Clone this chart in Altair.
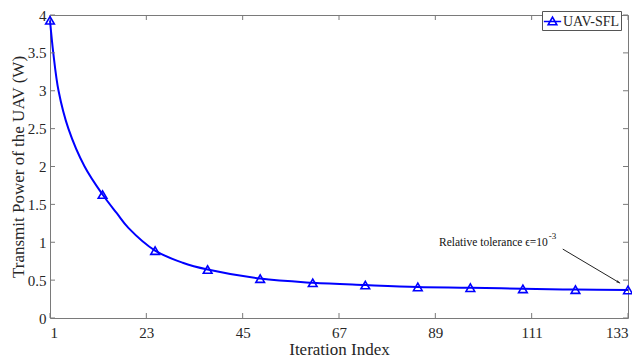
import altair as alt
import pandas as pd

# ---- data ----
curve_x = [1, 1.75, 2.95, 5.2, 8.9, 13, 16.3, 18.9, 25, 31.3, 37, 49, 61, 73, 85, 97, 109, 121, 133]
curve_y = [3.93, 3.5, 3.0, 2.5, 2.0, 1.63, 1.38, 1.19, 0.89, 0.73, 0.64, 0.52, 0.465, 0.435, 0.41, 0.40, 0.385, 0.375, 0.37]
marker_x = [1, 13, 25, 37, 49, 61, 73, 85, 97, 109, 121, 133]
marker_y = [3.93, 1.63, 0.89, 0.64, 0.52, 0.465, 0.435, 0.41, 0.40, 0.385, 0.375, 0.37]
series_name = "UAV-SFL"
x_ticks = [1, 23, 45, 67, 89, 111, 133]
y_ticks = [0, 0.5, 1, 1.5, 2, 2.5, 3, 3.5, 4]
note_text = "Relative tolerance \u03f5=10"
note_sup = "-3"
note_pos = [114.7, 0.95]
sup_pos = [114.9, 1.04]
arrow_from = [118.1, 0.91]
arrow_to = [131.2, 0.46]

W, H = 578, 303
FONT = "Liberation Serif"
BLUE = "#0000ff"
GRAY = "#7a7a7a"
TXT = "#262626"

curve = pd.DataFrame({"x": curve_x, "y": curve_y, "s": series_name})
markers = pd.DataFrame({"x": marker_x, "y": marker_y, "s": series_name})
xt = pd.DataFrame({"t": x_ticks})
yt = pd.DataFrame({"t": y_ticks})

xscale = alt.Scale(domain=[1, 133], nice=False, zero=False)
yscale = alt.Scale(domain=[0, 4], nice=False)
xaxis = alt.Axis(values=x_ticks, title="Iteration Index", format="d", labelOverlap=False)
yaxis = alt.Axis(values=y_ticks, title="Transmit Power of the UAV (W)",
                 labelExpr="format(datum.value, '.1~f')", labelOverlap=False)


def X(f):
    return alt.X(f, scale=xscale, axis=xaxis, title="Iteration Index")


def Y(f):
    return alt.Y(f, scale=yscale, axis=yaxis, title="Transmit Power of the UAV (W)")


legend_symbol = "M-1,0 L1,0 M0,-0.5 L0.5,0.38 L-0.5,0.38 Z"

line = alt.Chart(curve).mark_line(strokeWidth=2, interpolate="catmull-rom").encode(
    x=X("x:Q"), y=Y("y:Q"),
    color=alt.Color("s:N", scale=alt.Scale(range=[BLUE]),
                    legend=alt.Legend(title=None, orient="none", legendX=492, legendY=-4,
                                      offset=0,
                                      symbolType=legend_symbol, symbolSize=300,
                                      symbolStrokeWidth=1.6, symbolStrokeColor=BLUE,
                                      symbolFillColor="transparent",
                                      strokeColor="#555", fillColor="white", padding=1,
                                      labelFont=FONT, labelFontSize=14, labelColor=TXT,
                                      labelOffset=1, cornerRadius=0)),
)

pts = alt.Chart(markers).mark_point(shape="triangle-up", filled=False, size=75,
                                    strokeWidth=1.6, opacity=1).encode(
    x=X("x:Q"), y=Y("y:Q"),
    color=alt.Color("s:N", scale=alt.Scale(range=[BLUE]), legend=None),
)

tick_len = 5
xt_bottom = alt.Chart(xt).mark_rule(color=GRAY, strokeWidth=1).encode(
    x=X("t:Q"), y=alt.value(H), y2=alt.value(H - tick_len))
xt_top = alt.Chart(xt).mark_rule(color=GRAY, strokeWidth=1).encode(
    x=X("t:Q"), y=alt.value(0), y2=alt.value(tick_len))
yt_left = alt.Chart(yt).mark_rule(color=GRAY, strokeWidth=1).encode(
    y=Y("t:Q"), x=alt.value(0), x2=alt.value(tick_len))
yt_right = alt.Chart(yt).mark_rule(color=GRAY, strokeWidth=1).encode(
    y=Y("t:Q"), x=alt.value(W), x2=alt.value(W - tick_len))

note_df = pd.DataFrame({"x": [note_pos[0]], "y": [note_pos[1]], "t": [note_text]})
sup_df = pd.DataFrame({"x": [sup_pos[0]], "y": [sup_pos[1]], "t": [note_sup]})
arrow_df = pd.DataFrame({"x": [arrow_from[0]], "y": [arrow_from[1]],
                         "x2": [arrow_to[0]], "y2": [arrow_to[1]]})
head_df = pd.DataFrame({"x": [arrow_to[0]], "y": [arrow_to[1]]})

note = alt.Chart(note_df).mark_text(font=FONT, fontSize=11.5, align="right",
                                    baseline="alphabetic", color="#111").encode(
    x=X("x:Q"), y=Y("y:Q"), text="t:N")
sup = alt.Chart(sup_df).mark_text(font=FONT, fontSize=9, align="left",
                                  baseline="alphabetic", color="#111").encode(
    x=X("x:Q"), y=Y("y:Q"), text="t:N")
arrow = alt.Chart(arrow_df).mark_rule(color="#222", strokeWidth=1).encode(
    x=X("x:Q"), y=Y("y:Q"), x2="x2:Q", y2="y2:Q")
head = alt.Chart(head_df).mark_point(shape="M0,0 L-0.35,1.2 L0.35,1.2 Z", filled=True,
                                     size=40, angle=121, color="#222", opacity=1).encode(
    x=X("x:Q"), y=Y("y:Q"))

chart = alt.layer(line, xt_bottom, xt_top, yt_left, yt_right, pts, arrow, head, note, sup).properties(
    width=W, height=H,
    autosize=alt.AutoSizeParams(type="none"),
    padding={"left": 42, "top": 7, "right": 4, "bottom": 40},
).configure_view(stroke=GRAY, strokeWidth=1).configure_axis(
    domain=False, grid=False, ticks=False, labelOverlap=False,
    labelFont=FONT, labelFontSize=15, labelColor=TXT,
    titleFont=FONT, titleFontSize=17, titleColor=TXT, titleFontWeight="normal",
).configure_axisX(labelPadding=7, titlePadding=1).configure_axisY(
    labelPadding=4, titlePadding=0)

chart.save("out.html", embed_options={"renderer": "svg", "actions": False})
